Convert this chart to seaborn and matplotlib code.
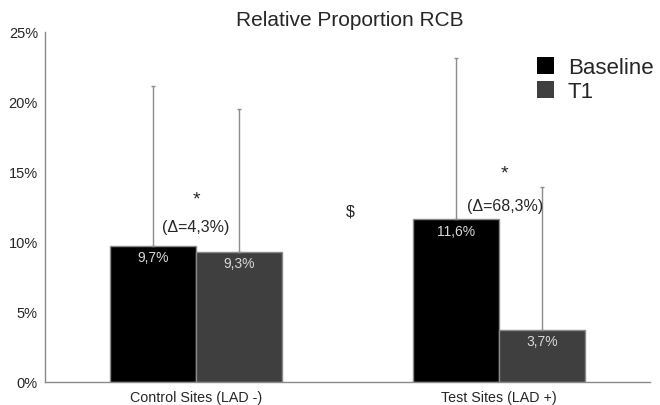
import numpy as np
import pandas as pd
import matplotlib
matplotlib.use('Agg')
import matplotlib.pyplot as plt
import seaborn as sns

# Daten
sites = ['Control Sites (LAD -)', 'Test Sites (LAD +)']
groups = ['Baseline', 'T1']
baseline_vals = [9.7, 11.6]
t1_vals = [9.3, 3.7]
baseline_err = [11.4, 11.5]
t1_err = [10.2, 10.2]
bar_labels = ['9,7%', '11,6%', '9,3%', '3,7%']
delta_labels = ['(Δ=4,3%)', '(Δ=68,3%)']

df = pd.DataFrame({
    'site': sites * 2,
    'group': [groups[0]] * 2 + [groups[1]] * 2,
    'value': baseline_vals + t1_vals,
    'err': baseline_err + t1_err,
})

sns.set_style('white')
plt.rcParams['font.family'] = ['Liberation Sans', 'DejaVu Sans']

fig = plt.figure(figsize=(6.6, 4.06), dpi=100)
ax = fig.add_axes([0.068, 0.057, 0.917, 0.862])

sns.barplot(data=df, x='site', y='value', hue='group', hue_order=groups,
            palette={'Baseline': '#000000', 'T1': '#3f3f3f'},
            width=0.57, gap=0, errorbar=None, edgecolor='#8a8a8a',
            linewidth=1.0, ax=ax)

# Fehlerbalken nur nach oben
bars = [p for p in ax.patches if p.get_height() > 0]
for bar, err, lab in zip(bars, df['err'], bar_labels):
    xc = bar.get_x() + bar.get_width() / 2
    h = bar.get_height()
    ax.errorbar(xc, h, yerr=[[0], [err]], fmt='none', ecolor='#8c8c8c',
                elinewidth=1.0, capsize=1.5, capthick=1.0, zorder=1)
    ax.text(xc, h - 0.3, lab, ha='center', va='top', color='#d8d8d8',
            fontsize=10)

# Signifikanz
ax.text(0, 13.1, '*', ha='center', va='center', fontsize=14)
ax.text(0, 11.1, delta_labels[0], ha='center', va='center', fontsize=11.5)
ax.text(1.02, 14.9, '*', ha='center', va='center', fontsize=14)
ax.text(1.02, 12.6, delta_labels[1], ha='center', va='center', fontsize=11.5)
ax.text(0.51, 12.2, '$', ha='center', va='center', fontsize=11.5)

ax.set_xlim(-0.5, 1.5)
ax.set_ylim(0, 25)
ax.set_yticks(np.arange(0, 26, 5))
ax.set_yticklabels([f'{v}%' for v in range(0, 26, 5)], fontsize=10.5)
ax.tick_params(axis='x', labelsize=10.3, length=0, pad=6)
ax.tick_params(axis='y', length=2, color='#cccccc', pad=3)
ax.set_xlabel('')
ax.set_ylabel('')
for s in ['top', 'right']:
    ax.spines[s].set_visible(False)
for s in ['left', 'bottom']:
    ax.spines[s].set_color('#8a8a8a')
    ax.spines[s].set_linewidth(1.0)

fig.suptitle('Relative Proportion RCB', fontsize=15, x=0.53, y=0.95, va='center')

leg = ax.legend(loc='upper right', bbox_to_anchor=(1.02, 0.955), frameon=False,
                fontsize=16, handlelength=0.8, handleheight=0.8,
                handletextpad=0.6, labelspacing=0.15, borderaxespad=0.0)
for h in leg.legend_handles:
    h.set_edgecolor('none')

fig.savefig('out.png', dpi=100)
